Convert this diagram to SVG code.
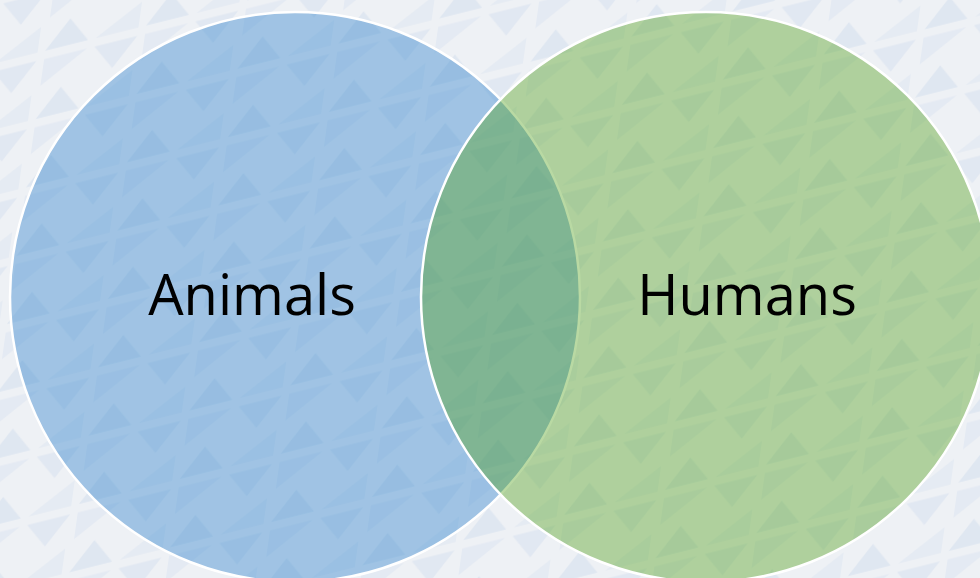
<svg xmlns="http://www.w3.org/2000/svg" width="980" height="578" viewBox="0 0 980 578">
  <defs>
    <!-- faint triangle texture used for the page background -->
    <pattern id="tri" width="104" height="64" patternUnits="userSpaceOnUse" patternTransform="rotate(-14) skewX(-22)">
      <rect width="104" height="64" fill="#eef1f5"/>
      <polygon points="4,4 48,4 26,29" fill="#e1e8f2"/>
      <polygon points="56,4 100,4 56,29" fill="#e4eaf3"/>
      <polygon points="4,60 48,60 48,36" fill="#e5ebf3"/>
      <polygon points="56,60 100,60 78,35" fill="#dfe7f1"/>
    </pattern>
    <style>
      .set { stroke: #ffffff; stroke-width: 2.5; }
      .label { font-family: "Open Sans", "Liberation Sans", sans-serif; font-size: 56px; fill: #000000; text-anchor: middle; }
    </style>
  </defs>

  <rect width="980" height="578" fill="url(#tri)"/>

  <g id="animals">
    <circle class="set" cx="295" cy="297" r="285" fill="#2b80ca" fill-opacity="0.4"/>
    <text class="label" x="252" y="315">Animals</text>
  </g>

  <g id="humans">
    <circle class="set" cx="706" cy="297" r="285" fill="#4f9f1a" fill-opacity="0.4"/>
    <text class="label" x="747" y="315">Humans</text>
  </g>

  <g id="connectors"/>
</svg>
